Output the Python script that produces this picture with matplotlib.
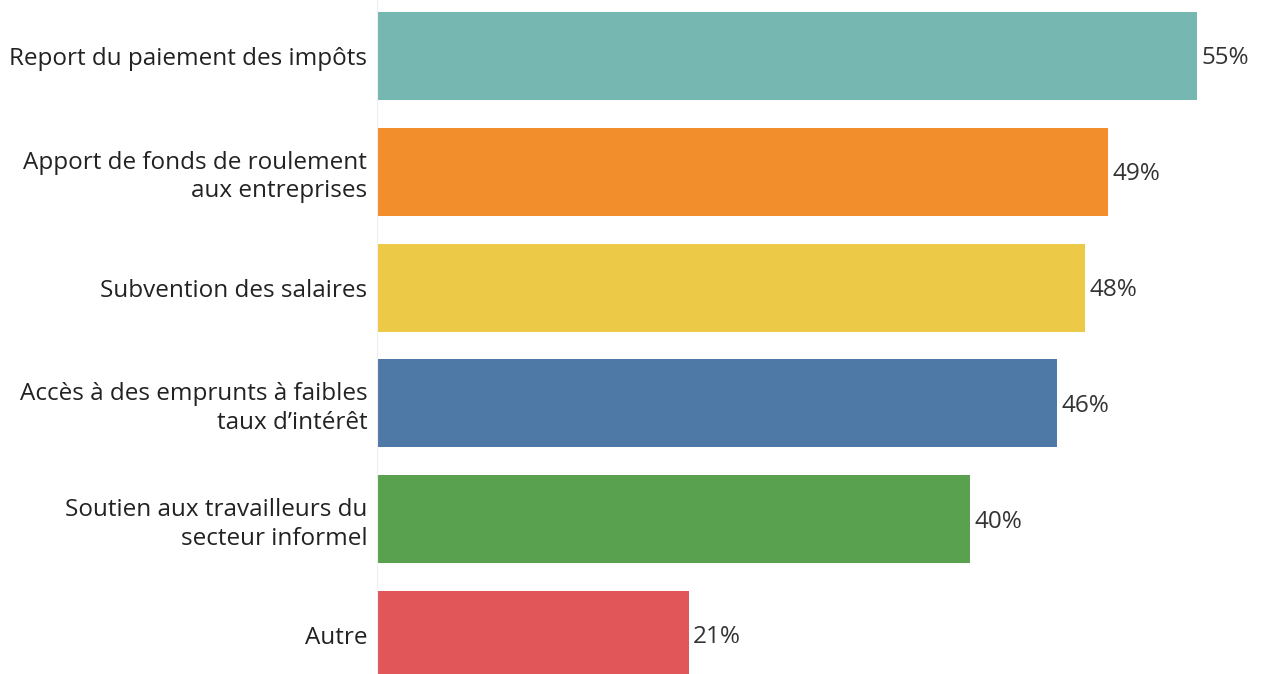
import matplotlib.pyplot as plt

categories = [
    "Report du paiement des impôts",
    "Apport de fonds de roulement\naux entreprises",
    "Subvention des salaires",
    "Accès à des emprunts à faibles\ntaux d\u2019intérêt",
    "Soutien aux travailleurs du\nsecteur informel",
    "Autre",
]
# shares (labels are rounded)
values = [55.0, 49.0, 47.5, 45.6, 39.8, 20.9]
colors = ["#76B7B2", "#F28E2B", "#EDC948", "#4E79A7", "#59A14F", "#E15759"]

plt.rcParams['font.family'] = ['Open Sans', 'DejaVu Sans']

fig = plt.figure(figsize=(12.61, 6.74), dpi=100)
ax = fig.add_axes([377 / 1261, 0, 884 / 1261, 1])

pos = list(range(len(categories)))
ax.barh(pos, values, height=0.76, color=colors)

for p, v in zip(pos, values):
    ax.text(v + 0.3, p + 0.02, f"{v:.0f}%", va='center', ha='left', fontsize=17.5, color='#333333')

ax.set_yticks(pos)
ax.set_yticklabels(categories, fontsize=17.5, color='#222222', linespacing=1.25)
ax.tick_params(axis='y', length=0, pad=7)
ax.set_xticks([])
ax.set_xlim(0, 884 / 14.91)
ax.set_ylim(5.337, -0.484)

for s in ['top', 'right', 'bottom']:
    ax.spines[s].set_visible(False)
ax.spines['left'].set_color('#eeeeee')

fig.savefig('out.png', dpi=100)
